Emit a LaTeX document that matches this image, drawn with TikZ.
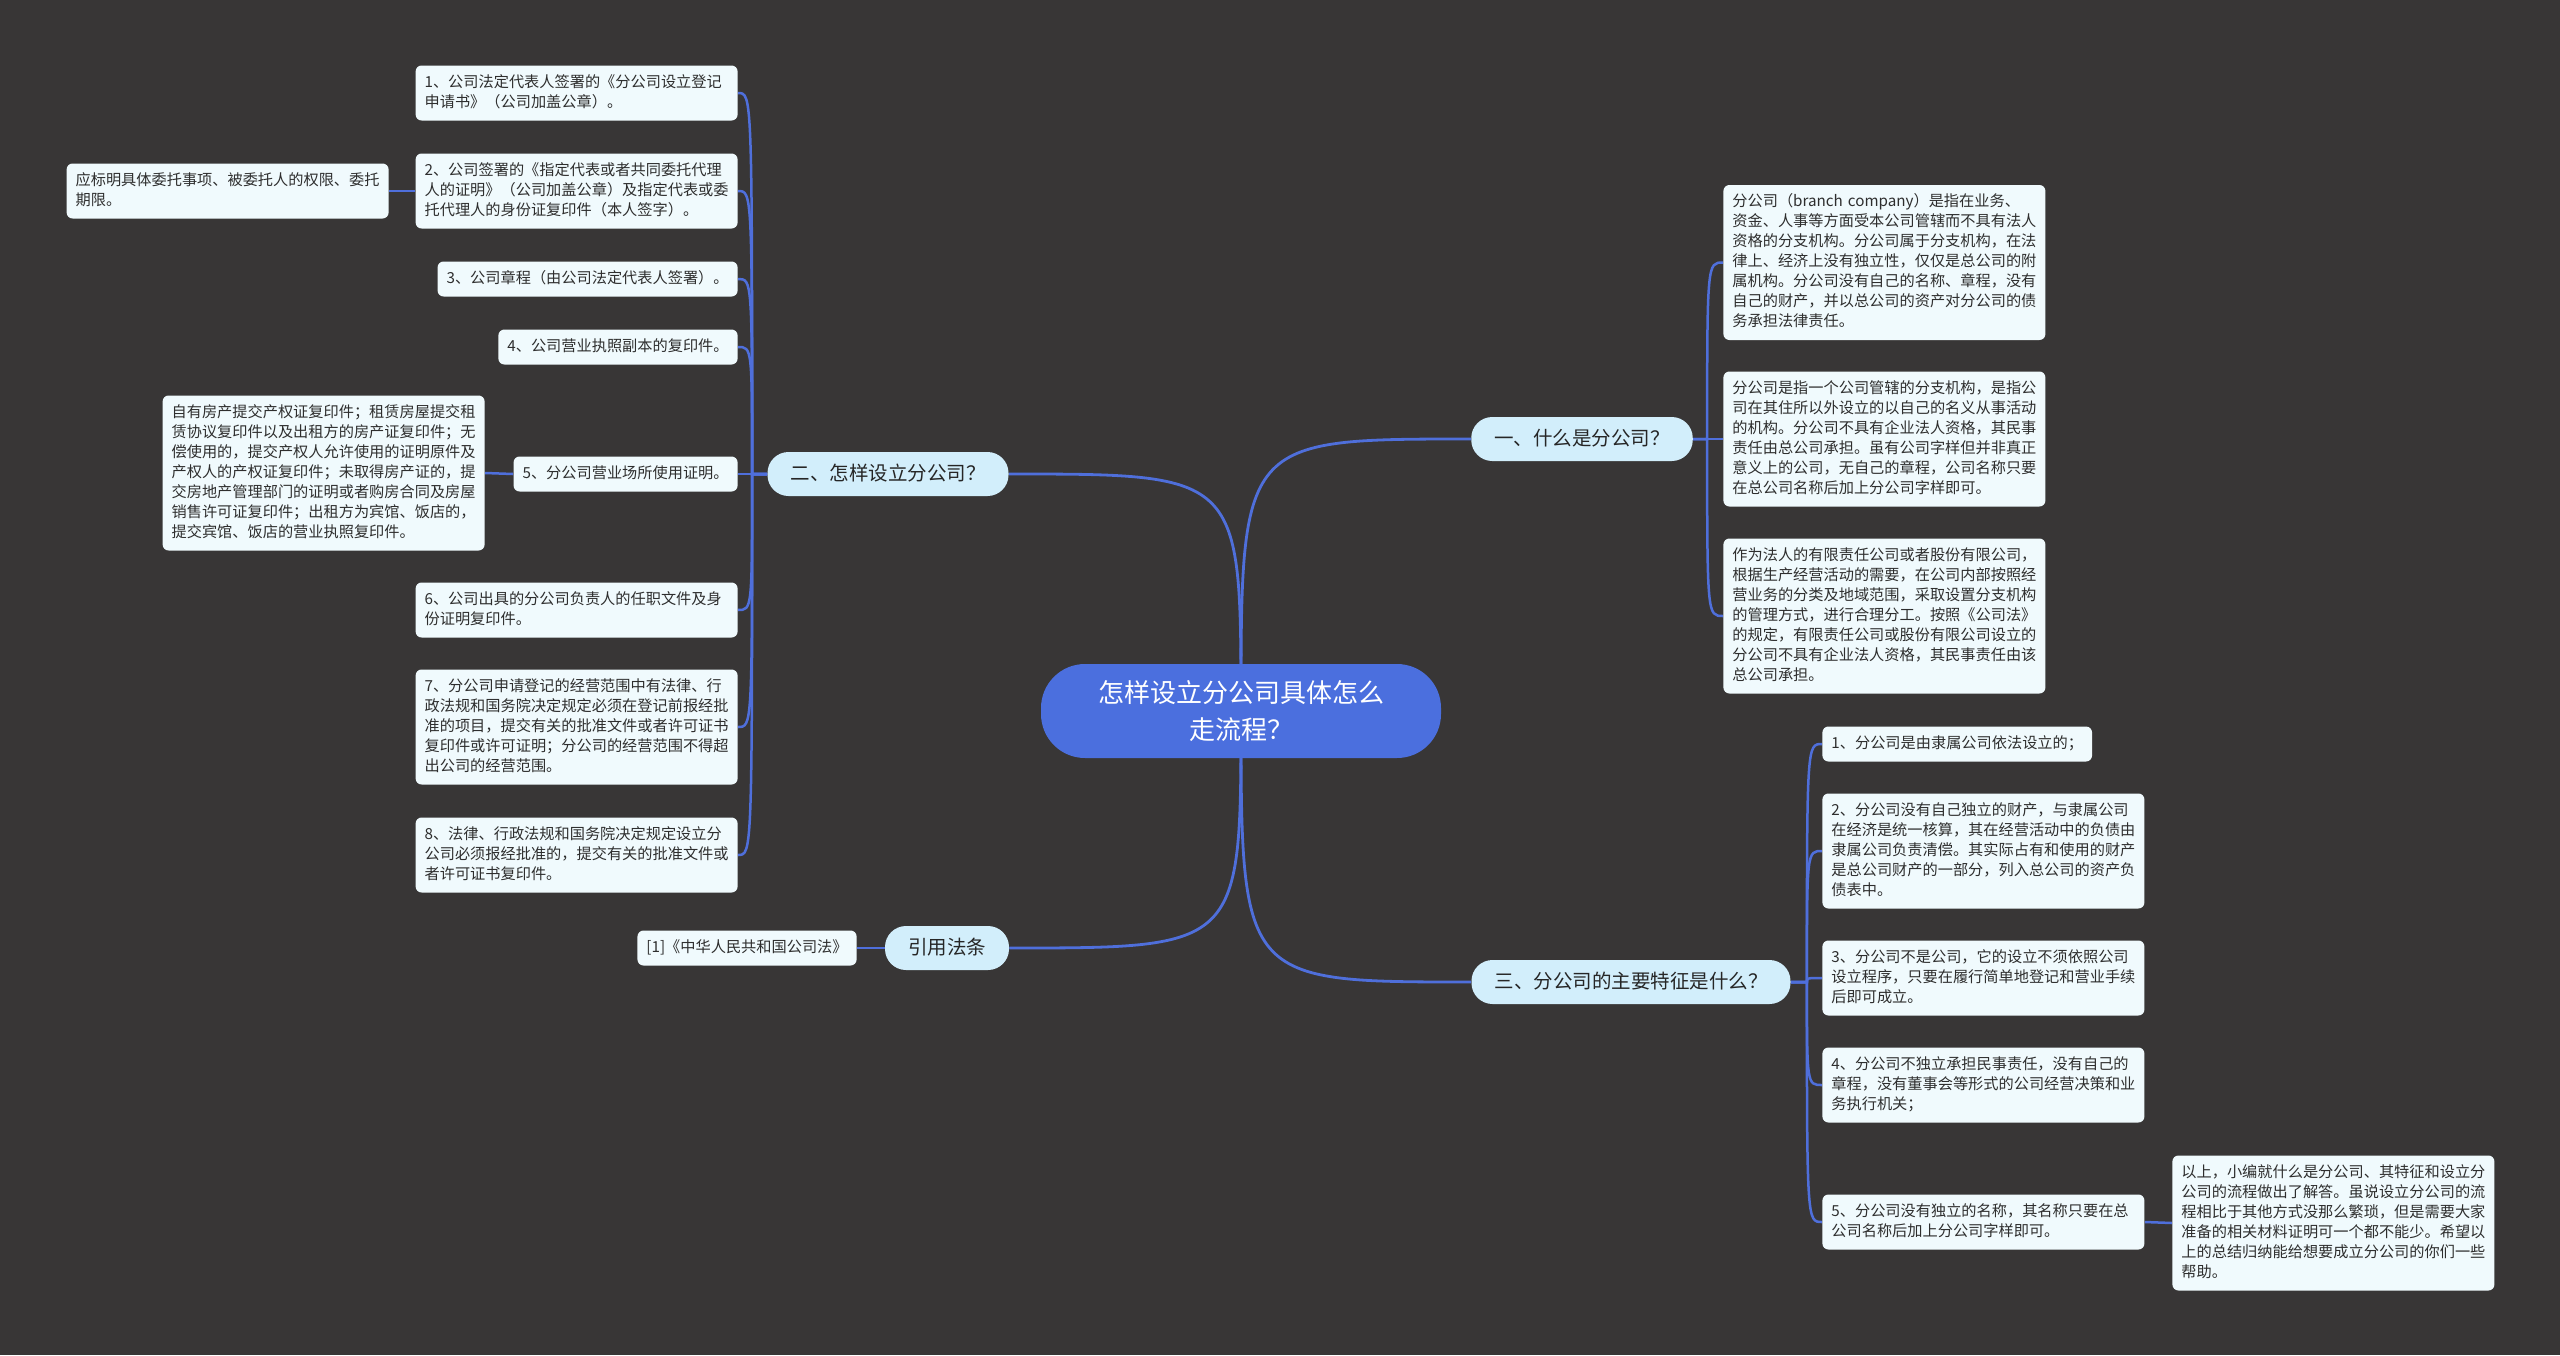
\documentclass[tikz,border=0pt]{standalone}
\usepackage{fontspec}
\setmainfont{Noto Sans CJK SC}
\usetikzlibrary{backgrounds}
\definecolor{bgc}{HTML}{383636}
\definecolor{linec}{HTML}{4F6FDB}
\definecolor{rootc}{HTML}{4B6FDE}
\definecolor{branchc}{HTML}{D2EEFB}
\definecolor{leafc}{HTML}{F0FAFD}
\definecolor{txtc}{HTML}{2E2E2E}
\newcommand\leaffont{\fontsize{7.6pt}{10pt}\selectfont}
\newcommand\branchfont{\fontsize{9.75pt}{12pt}\selectfont}
\newcommand\rootfont{\fontsize{13pt}{18.5pt}\selectfont}
\tikzset{
  leaf/.style={fill=leafc, rounded corners=3pt, inner xsep=4.5pt, inner ysep=3.75pt, font=\leaffont, text=txtc, align=left},
  wleaf/.style={leaf, text width=152pt},
  branch/.style={fill=branchc, rounded corners=10.5pt, minimum height=22pt, inner xsep=11.5pt, inner ysep=0pt, text height=7.8pt, text depth=1.2pt, font=\branchfont, text=black!85},
  root/.style={fill=rootc, text=white, rounded corners=22pt, minimum width=200pt, minimum height=47pt, align=center, font=\rootfont},
  conn/.style={draw=linec, line width=1.25pt},
  rconn/.style={draw=linec, line width=1.4pt}
}
\begin{document}
\begin{tikzpicture}[x=0.5pt,y=-0.5pt]
\useasboundingbox (0,0) rectangle (2560,1355);
% root
\node[root] (C) at (1241,711) {怎样设立分公司具体怎么\\走流程？};
% branches
\node[branch] (B1) at (1582,439) {一、什么是分公司？};
\node[branch] (B2) at (888,474) {二、怎样设立分公司？};
\node[branch] (B3) at (947,948) {引用法条};
\node[branch] (B4) at (1631,982) {三、分公司的主要特征是什么？};
% branch 1 children
\node[wleaf, anchor=west] (A1) at (1723,262.5) {\strut 分公司（branch company）是指在业务、\\资金、人事等方面受本公司管辖而不具有法人\\资格的分支机构。分公司属于分支机构，在法\\律上、经济上没有独立性，仅仅是总公司的附\\属机构。分公司没有自己的名称、章程，没有\\自己的财产，并以总公司的资产对分公司的债\\务承担法律责任。\strut};
\node[wleaf, anchor=west] (A2) at (1723,439) {\strut 分公司是指一个公司管辖的分支机构，是指公\\司在其住所以外设立的以自己的名义从事活动\\的机构。分公司不具有企业法人资格，其民事\\责任由总公司承担。虽有公司字样但并非真正\\意义上的公司，无自己的章程，公司名称只要\\在总公司名称后加上分公司字样即可。\strut};
\node[wleaf, anchor=west] (A3) at (1723,616) {\strut 作为法人的有限责任公司或者股份有限公司，\\根据生产经营活动的需要，在公司内部按照经\\营业务的分类及地域范围，采取设置分支机构\\的管理方式，进行合理分工。按照《公司法》\\的规定，有限责任公司或股份有限公司设立的\\分公司不具有企业法人资格，其民事责任由该\\总公司承担。\strut};
% branch 2 children
\node[wleaf, anchor=east] (L1) at (738,93) {\strut 1、公司法定代表人签署的《分公司设立登记\\申请书》（公司加盖公章）。\strut};
\node[wleaf, anchor=east] (L2) at (738,191) {\strut 2、公司签署的《指定代表或者共同委托代理\\人的证明》（公司加盖公章）及指定代表或委\\托代理人的身份证复印件（本人签字）。\strut};
\node[wleaf, anchor=east] (L2a) at (389,191) {\strut 应标明具体委托事项、被委托人的权限、委托\\期限。\strut};
\node[leaf, anchor=east] (L3) at (738,279) {\strut 3、公司章程（由公司法定代表人签署）。};
\node[leaf, anchor=east] (L4) at (738,347) {\strut 4、公司营业执照副本的复印件。};
\node[leaf, anchor=east] (L5) at (738,474) {\strut 5、分公司营业场所使用证明。};
\node[wleaf, anchor=east] (L5a) at (485,473) {\strut 自有房产提交产权证复印件；租赁房屋提交租\\赁协议复印件以及出租方的房产证复印件；无\\偿使用的，提交产权人允许使用的证明原件及\\产权人的产权证复印件；未取得房产证的，提\\交房地产管理部门的证明或者购房合同及房屋\\销售许可证复印件；出租方为宾馆、饭店的，\\提交宾馆、饭店的营业执照复印件。\strut};
\node[wleaf, anchor=east] (L6) at (738,610) {\strut 6、公司出具的分公司负责人的任职文件及身\\份证明复印件。\strut};
\node[wleaf, anchor=east] (L7) at (738,727) {\strut 7、分公司申请登记的经营范围中有法律、行\\政法规和国务院决定规定必须在登记前报经批\\准的项目，提交有关的批准文件或者许可证书\\复印件或许可证明；分公司的经营范围不得超\\出公司的经营范围。\strut};
\node[wleaf, anchor=east] (L8) at (738,855) {\strut 8、法律、行政法规和国务院决定规定设立分\\公司必须报经批准的，提交有关的批准文件或\\者许可证书复印件。\strut};
% citation
\node[leaf, anchor=east] (Q1) at (857,948) {\strut [1]《中华人民共和国公司法》};
% branch 3 children
\node[leaf, anchor=west] (R1) at (1822,744) {\strut 1、分公司是由隶属公司依法设立的；};
\node[wleaf, anchor=west] (R2) at (1822,851) {\strut 2、分公司没有自己独立的财产，与隶属公司\\在经济是统一核算，其在经营活动中的负债由\\隶属公司负责清偿。其实际占有和使用的财产\\是总公司财产的一部分，列入总公司的资产负\\债表中。\strut};
\node[wleaf, anchor=west] (R3) at (1822,978) {\strut 3、分公司不是公司，它的设立不须依照公司\\设立程序，只要在履行简单地登记和营业手续\\后即可成立。\strut};
\node[wleaf, anchor=west] (R4) at (1822,1085) {\strut 4、分公司不独立承担民事责任，没有自己的\\章程，没有董事会等形式的公司经营决策和业\\务执行机关；\strut};
\node[wleaf, anchor=west] (R5) at (1822,1222) {\strut 5、分公司没有独立的名称，其名称只要在总\\公司名称后加上分公司字样即可。\strut};
\node[wleaf, anchor=west] (R5a) at (2172,1223) {\strut 以上，小编就什么是分公司、其特征和设立分\\公司的流程做出了解答。虽说设立分公司的流\\程相比于其他方式没那么繁琐，但是需要大家\\准备的相关材料证明可一个都不能少。希望以\\上的总结归纳能给想要成立分公司的你们一些\\帮助。\strut};
% connectors
\begin{scope}[on background layer]
\fill[bgc] (0,0) rectangle (2560,1355);
\draw[rconn] (C.center) .. controls (C.center |- B1.west) .. (B1.west);
\draw[rconn] (C.center) .. controls (C.center |- B2.east) .. (B2.east);
\draw[rconn] (C.center) .. controls (C.center |- B3.east) .. (B3.east);
\draw[rconn] (C.center) .. controls (C.center |- B4.west) .. (B4.west);
\path (B1.east) ++(14,0) coordinate (s1);
\path (B2.west) ++(-15,0) coordinate (s2);
\path (B4.east) ++(16,0) coordinate (s4);
\foreach \n in {A1,A2,A3}
  \draw[conn] (B1.east) -- (s1) .. controls (s1 |- \n.west) .. (\n.west);
\foreach \n in {L1,L2,L3,L4,L5,L6,L7,L8}
  \draw[conn] (B2.west) -- (s2) .. controls (s2 |- \n.east) .. (\n.east);
\foreach \n in {R1,R2,R3,R4,R5}
  \draw[conn] (B4.east) -- (s4) .. controls (s4 |- \n.west) .. (\n.west);
\draw[conn] (L2.west) -- (L2a.east);
\draw[conn] (L5.west) -- (L5a.east);
\draw[conn] (B3.west) -- (Q1.east);
\draw[conn] (R5.east) -- (R5a.west);
\end{scope}
\end{tikzpicture}
\end{document}
